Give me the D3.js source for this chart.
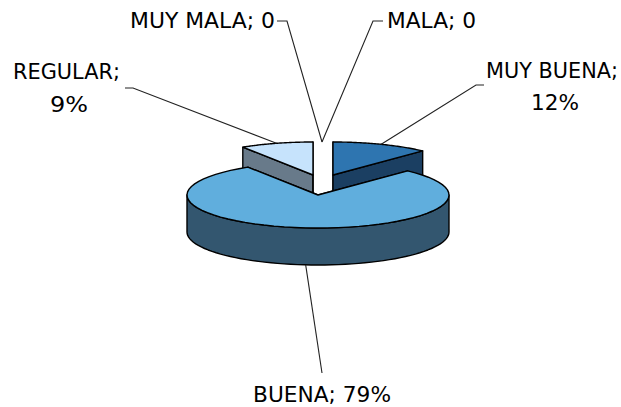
<!DOCTYPE html>
<html>
<head>
<meta charset="utf-8">
<script src="https://cdn.jsdelivr.net/npm/d3@7"></script>
<style>
  html, body { margin: 0; padding: 0; background: #fff; }
  svg { display: block; }
  text { font-family: "DejaVu Sans", sans-serif; font-size: 21px; fill: #000; text-anchor: middle; }
  .face { stroke: #000; stroke-width: 1.4; stroke-linejoin: round; }
  .leader { fill: none; stroke: #222; stroke-width: 1.1; }
</style>
</head>
<body>
<div id="graphic"></div>
<script>
const CATEGORIES = ["MUY BUENA", "BUENA", "REGULAR", "MALA", "MUY MALA"];
const VALUES = [12, 79, 9, 0, 0];
const VALUE_LABELS = ["12%", "79%", "9%", "0", "0"];

const WIDTH = 621;
const HEIGHT = 407;
const RX = 131;
const RY = 33;
const DEPTH = 37;
const ZERO_ANCHOR = [322, 142];

const TOP_COLORS = {"MUY BUENA": "#2e75b0", "BUENA": "#60aedd", "REGULAR": "#c6e3fc"};
const SIDE_COLORS = {"MUY BUENA": "#1b3f62", "BUENA": "#33566f", "REGULAR": "#687a8a"};
// apex of each exploded slice
const CENTERS = {
  "MUY BUENA": [333, 175],
  "BUENA": [318, 195],
  "REGULAR": [313, 175],
  "MALA": [322, 175],
  "MUY MALA": [322, 175]
};
// label lines (x, baseline, width) and the leader's points going out from the pie
const LABELS = {
  "MUY BUENA": {lines: [[552, 78, 132], [555, 110, 48]], knee: [[476, 85], [484, 85]], split: true},
  "BUENA": {lines: [[322, 402, 138]], knee: [[322, 373]], split: false},
  "REGULAR": {lines: [[66.5, 79, 107], [69, 112, 38]], knee: [[133, 88], [125, 88]], split: true},
  "MALA": {lines: [[431.5, 28, 89]], knee: [[373, 21], [383, 21]], split: false},
  "MUY MALA": {lines: [[202.5, 28, 145]], knee: [[287, 21], [277, 21]], split: false}
};

var svg = d3.select("#graphic").append("svg")
  .attr("width", WIDTH)
  .attr("height", HEIGHT);

// angle 0 is the top of the ellipse, going clockwise
var slices = d3.pie().sort(null)(VALUES).map((d, i) => ({
  name: CATEGORIES[i],
  label: VALUE_LABELS[i],
  start: d.startAngle,
  end: d.endAngle,
  center: CENTERS[CATEGORIES[i]]
}));

var pointAt = function(s, a, dy) {
  return [s.center[0] + RX * Math.sin(a), s.center[1] - RY * Math.cos(a) + (dy || 0)];
};

var arcPoints = function(s, a0, a1, dy) {
  return d3.range(0, 61).map(k => pointAt(s, a0 + (a1 - a0) * k / 60, dy));
};

var line = d3.line();

var drawFace = function(points, color) {
  svg.append("path")
    .attr("class", "face")
    .attr("d", line(points) + "Z")
    .attr("fill", color);
};

var drawSlice = function(s) {
  var side = SIDE_COLORS[s.name];
  var below = [s.center[0], s.center[1] + DEPTH];
  [s.start, s.end].forEach(a => {
    drawFace([s.center, pointAt(s, a), pointAt(s, a, DEPTH), below], side);
  });
  var from = Math.max(s.start, Math.PI / 2);
  var to = Math.min(s.end, Math.PI * 1.5);
  if (to > from) {
    drawFace(arcPoints(s, from, to, 0).concat(arcPoints(s, to, from, DEPTH)), side);
  }
  drawFace([s.center].concat(arcPoints(s, s.start, s.end, 0)), TOP_COLORS[s.name]);
};

// back slices first so the big one covers them
["MUY BUENA", "REGULAR", "BUENA"].forEach(name => drawSlice(slices.find(s => s.name == name)));

slices.forEach(s => {
  var mid = (s.start + s.end) / 2;
  var isFront = mid > Math.PI / 2 && mid < Math.PI * 1.5;
  var anchor = s.end > s.start ? pointAt(s, mid, isFront ? DEPTH : 0) : ZERO_ANCHOR;
  var lab = LABELS[s.name];
  svg.append("path")
    .attr("class", "leader")
    .attr("d", line([anchor].concat(lab.knee)));

  var strings = lab.split ? [s.name + ";", s.label] : [s.name + "; " + s.label];
  strings.forEach((t, i) => {
    svg.append("text")
      .attr("x", lab.lines[i][0])
      .attr("y", lab.lines[i][1])
      .attr("textLength", lab.lines[i][2])
      .attr("lengthAdjust", "spacingAndGlyphs")
      .text(t);
  });
});
</script>
</body>
</html>
